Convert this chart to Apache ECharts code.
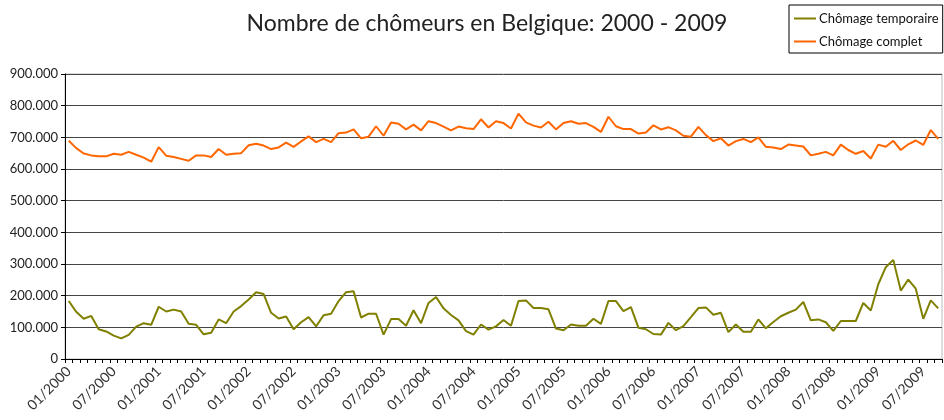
<!DOCTYPE html>
<html style="height: 100%">
<head>
    <meta charset="utf-8">
</head>
<body style="height: 100%; margin: 0; background: #fff">
    <div id="container" style="width: 944px; height: 420px"></div>
    <script src="https://cdn.jsdelivr.net/npm/echarts@6/dist/echarts.min.js"></script>
    <script type="text/javascript">
        // mois de 01/2000 à 09/2009 (117 points)
        var months = [];
        for (var y = 2000; y <= 2009; y++) {
            for (var m = 1; m <= 12; m++) {
                if (y === 2009 && m > 9) break;
                months.push((m < 10 ? '0' + m : '' + m) + '/' + y);
            }
        }

        // chômage temporaire (milliers)
        var temporaire = [
            183, 149, 127, 136, 94, 87, 74, 65, 76, 102, 113, 108,
            165, 150, 156, 150, 111, 108, 78, 83, 125, 113, 150, 167,
            188, 211, 205, 146, 128, 134, 94, 116, 132, 103, 138, 143,
            183, 211, 214, 131, 143, 143, 77, 126, 126, 105, 154, 113,
            177, 196, 160, 139, 122, 88, 77, 109, 93, 103, 123, 105,
            183, 185, 161, 161, 157, 96, 91, 109, 105, 105, 127, 111,
            183, 183, 151, 164, 99, 94, 79, 77, 114, 91, 104, 132,
            161, 163, 140, 146, 85, 109, 86, 86, 125, 97, 117, 135,
            146, 156, 180, 122, 125, 116, 89, 120, 120, 120, 177, 153,
            236, 290, 313, 216, 251, 222, 127, 185, 160
        ];

        // chômage complet (milliers)
        var complet = [
            689, 666, 649, 643, 640, 640, 648, 645, 654, 645, 636, 623,
            669, 642, 638, 632, 626, 643, 643, 638, 663, 645, 648, 650,
            675, 680, 674, 663, 668, 683, 670, 687, 703, 685, 695, 685,
            713, 715, 725, 697, 702, 735, 705, 747, 743, 725, 740, 722,
            751, 745, 734, 722, 734, 729, 726, 757, 731, 751, 745, 728,
            775, 747, 737, 731, 749, 725, 745, 751, 743, 745, 733, 717,
            765, 735, 726, 726, 712, 715, 738, 725, 732, 722, 705, 702,
            733, 707, 688, 697, 674, 688, 695, 685, 700, 670, 668, 663,
            677, 674, 671, 643, 648, 654, 643, 677, 660, 648, 657, 633,
            677, 670, 689, 660, 678, 690, 676, 723, 695
        ];

        var dom = document.getElementById("container");
        var myChart = echarts.init(dom);
        var font = 'Lato, "Noto Sans", sans-serif';

        var option = {
            animation: false,
            title: {
                text: 'Nombre de chômeurs en Belgique: 2000 - 2009',
                left: 482,
                textAlign: 'center',
                top: 7,
                textStyle: { fontFamily: font, fontSize: 23, fontWeight: 'normal', color: '#222' }
            },
            legend: {
                left: 789,
                top: 5,
                orient: 'vertical',
                borderColor: '#000',
                borderWidth: 1,
                padding: [7, 4, 5, 5],
                itemGap: 10,
                itemWidth: 22,
                itemHeight: 2,
                icon: 'rect',
                textStyle: { fontFamily: font, fontSize: 13, color: '#111', padding: [0, 0, 0, -2] },
                data: ['Chômage temporaire', 'Chômage complet']
            },
            grid: { left: 65, right: 2, top: 74, bottom: 61, show: true, borderColor: '#bbb', borderWidth: 1 },
            xAxis: {
                type: 'category',
                data: months,
                boundaryGap: true,
                axisLine: { lineStyle: { color: '#000', width: 1 } },
                axisTick: { show: true, interval: 0, length: 4, lineStyle: { color: '#000' } },
                axisLabel: {
                    interval: function (index) { return index % 6 === 0; },
                    rotate: 45,
                    margin: 10,
                    fontFamily: font,
                    fontSize: 14,
                    color: '#333'
                },
                splitLine: { show: false }
            },
            yAxis: {
                type: 'value',
                min: 0,
                max: 900000,
                interval: 100000,
                axisLine: { show: true, lineStyle: { color: '#000', width: 1 } },
                axisTick: { show: true, length: 4, lineStyle: { color: '#000' } },
                axisLabel: {
                    fontFamily: font,
                    fontSize: 13,
                    color: '#222',
                    margin: 7,
                    formatter: function (v) { return v === 0 ? '0' : (v / 1000) + '.000'; }
                },
                splitLine: { lineStyle: { color: '#444', width: 1 } }
            },
            series: [
                {
                    name: 'Chômage temporaire',
                    type: 'line',
                    data: temporaire.map(function (v) { return v * 1000; }),
                    showSymbol: false,
                    lineStyle: { color: '#808000', width: 2 },
                    itemStyle: { color: '#808000' }
                },
                {
                    name: 'Chômage complet',
                    type: 'line',
                    data: complet.map(function (v) { return v * 1000; }),
                    showSymbol: false,
                    lineStyle: { color: '#FF6600', width: 2 },
                    itemStyle: { color: '#FF6600' }
                }
            ]
        };

        myChart.setOption(option);
    </script>
</body>
</html>
